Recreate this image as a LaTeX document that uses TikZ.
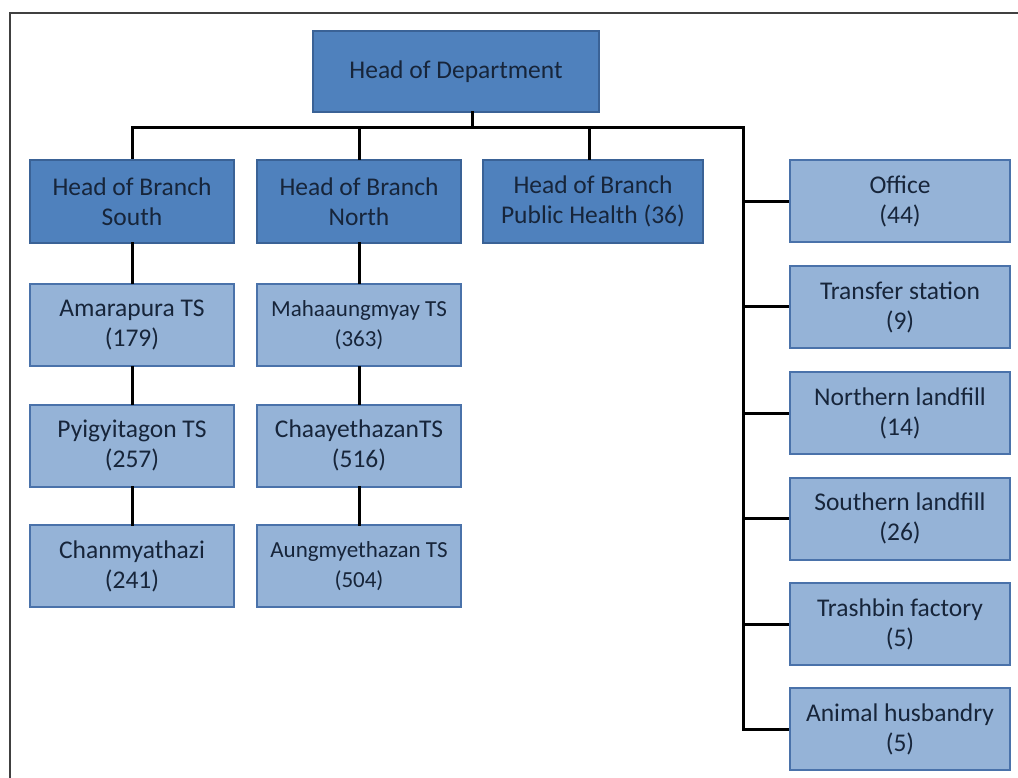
\documentclass[tikz,border=0pt]{standalone}
\usepackage{fontspec}
\setmainfont{Carlito}
\definecolor{darkbox}{HTML}{4F81BD}
\definecolor{lightbox}{HTML}{95B3D7}
\definecolor{darkedge}{HTML}{3A6296}
\definecolor{lightedge}{HTML}{4A72AA}
\definecolor{txt}{HTML}{17253A}
\tikzset{
box/.style={draw,line width=2pt,align=center,inner sep=0pt,text=txt,font=\fontsize{25.5}{30}\selectfont},
head/.style={box,fill=darkbox,draw=darkedge},
unit/.style={box,fill=lightbox,draw=lightedge},
wire/.style={line width=3pt,line cap=rect}
}
\begin{document}
\begin{tikzpicture}[x=1pt,y=-1pt]
\useasboundingbox (0,0) rectangle (1018,778);
\draw[line width=2pt,black!75] (1018,13.5) -- (10,13.5) -- (10,778);
\node[head,minimum width=286pt,minimum height=81pt] (hod) at (456,71.5) {Head of Department};
\node[head,minimum width=204pt,minimum height=83pt] (hs) at (132,201.5) {Head of Branch\\South};
\node[head,minimum width=204pt,minimum height=83pt] (hn) at (359,201.5) {Head of Branch\\North};
\node[head,minimum width=220pt,minimum height=83pt] (hp) at (593,201.5) {Head of Branch\\Public Health (36)};
\node[unit,minimum width=204pt,minimum height=82pt] (am) at (132,325) {Amarapura TS\\(179)};
\node[unit,minimum width=204pt,minimum height=82pt] (py) at (132,445.5) {Pyigyitagon TS\\(257)};
\node[unit,minimum width=204pt,minimum height=82pt] (ch) at (132,566) {Chanmyathazi\\(241)};
\node[unit,minimum width=204pt,minimum height=82pt,font=\fontsize{23}{30}\selectfont] (ma) at (359,325) {Mahaaungmyay TS\\(363)};
\node[unit,minimum width=204pt,minimum height=82pt] (ca) at (359,445.5) {ChaayethazanTS\\(516)};
\node[unit,minimum width=204pt,minimum height=82pt,font=\fontsize{23}{30}\selectfont] (au) at (359,566) {Aungmyethazan TS\\(504)};
\node[unit,minimum width=220pt,minimum height=82pt] (of) at (900,201.5) {Office\\(44)};
\node[unit,minimum width=220pt,minimum height=82pt] (tr) at (900,307) {Transfer station\\(9)};
\node[unit,minimum width=220pt,minimum height=82pt] (nl) at (900,413) {Northern landfill\\(14)};
\node[unit,minimum width=220pt,minimum height=82pt] (sl) at (900,518.5) {Southern landfill\\(26)};
\node[unit,minimum width=220pt,minimum height=82pt] (tb) at (900,624) {Trashbin factory\\(5)};
\node[unit,minimum width=220pt,minimum height=82pt] (ah) at (900,729) {Animal husbandry\\(5)};
\coordinate (rt) at (743,128);
\draw[wire] (472,0 |- hod.south) -- (472,128);
\draw[wire,line cap=butt] (hs.north) |- (rt) |- (ah.west);
\draw[wire] (hn.north) -- (hn.north |- rt);
\draw[wire] (589,0 |- hp.north) -- (589,128);
\foreach \n in {of,tr,nl,sl,tb}{
\draw[wire,line cap=butt] (rt |- \n.west) -- (\n.west);
}
\draw[wire] (hs.south) -- (am.north);
\draw[wire] (am.south) -- (py.north);
\draw[wire] (py.south) -- (ch.north);
\draw[wire] (hn.south) -- (ma.north);
\draw[wire] (ma.south) -- (ca.north);
\draw[wire] (ca.south) -- (au.north);

\end{tikzpicture}
\end{document}
